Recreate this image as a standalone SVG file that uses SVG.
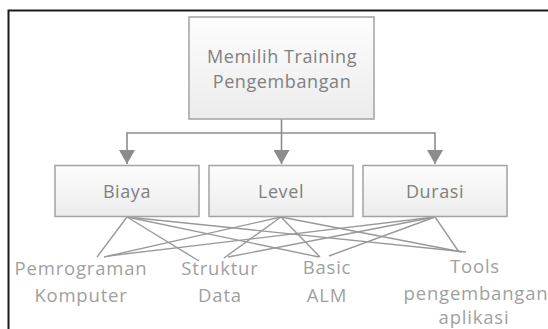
<svg xmlns="http://www.w3.org/2000/svg" width="548" height="329" viewBox="0 0 548 329">
<defs>
<linearGradient id="g" x1="0" y1="0" x2="0" y2="1">
<stop offset="0" stop-color="#fdfdfd"/>
<stop offset="1" stop-color="#ececec"/>
</linearGradient>
<marker id="arr" markerUnits="userSpaceOnUse" markerWidth="14" markerHeight="16" viewBox="0 0 14 16" refX="14" refY="8" orient="auto">
<path d="M0,0 L14,8 L0,16 z" fill="#8c8c8c"/>
</marker>
<style>
.box{fill:url(#g);stroke:#a3a3a3;stroke-width:1.5}
.bt{font-family:"Open Sans","Noto Sans",sans-serif;font-size:18px;letter-spacing:0.6px;fill:#808080;text-anchor:middle}
.lt{font-family:"Open Sans","Noto Sans",sans-serif;font-size:18.5px;letter-spacing:0.8px;fill:#9f9f9f;text-anchor:middle}
.c{fill:none;stroke:#8c8c8c;stroke-width:1.6}
.l{stroke:#999;stroke-width:1.4}
</style>
</defs>
<rect x="0" y="0" width="548" height="329" fill="#fff"/>
<rect x="8.5" y="10.5" width="600" height="400" fill="none" stroke="#1a1a1a" stroke-width="2"/>
<g id="connectors">
<path class="c" d="M281.5,119 V164" marker-end="url(#arr)"/>
<path class="c" d="M127,133 H435"/>
<path class="c" d="M127,132.2 V164" marker-end="url(#arr)"/>
<path class="c" d="M435,132.2 V164" marker-end="url(#arr)"/>
<g class="l">
<line x1="127" y1="217" x2="97" y2="257"/>
<line x1="127" y1="217" x2="199" y2="261"/>
<line x1="127" y1="217" x2="319" y2="257"/>
<line x1="127" y1="217" x2="466" y2="252"/>
<line x1="281" y1="217" x2="104" y2="257"/>
<line x1="281" y1="217" x2="224" y2="258"/>
<line x1="281" y1="217" x2="320" y2="257"/>
<line x1="281" y1="217" x2="462" y2="252"/>
<line x1="435" y1="217" x2="108" y2="256"/>
<line x1="435" y1="217" x2="228" y2="257"/>
<line x1="435" y1="217" x2="329" y2="256"/>
<line x1="435" y1="217" x2="459" y2="252"/>
</g>
</g>
<g id="root">
<rect class="box" x="189" y="17" width="185" height="102"/>
<text class="bt" x="282" y="62.5">Memilih Training</text>
<text class="bt" x="282" y="88">Pengembangan</text>
</g>
<g id="biaya">
<rect class="box" x="55" y="165.5" width="144" height="51"/>
<text class="bt" x="127" y="198">Biaya</text>
</g>
<g id="level">
<rect class="box" x="209" y="165.5" width="144" height="51"/>
<text class="bt" x="281" y="198">Level</text>
</g>
<g id="durasi">
<rect class="box" x="363" y="165.5" width="144" height="51"/>
<text class="bt" x="435" y="198">Durasi</text>
</g>
<g id="pemrograman">
<text class="lt" x="81" y="275">Pemrograman</text>
<text class="lt" x="81" y="302">Komputer</text>
</g>
<g id="struktur">
<text class="lt" x="220" y="275">Struktur</text>
<text class="lt" x="220" y="302">Data</text>
</g>
<g id="basic">
<text class="lt" x="327" y="273.5">Basic</text>
<text class="lt" x="327" y="301.5">ALM</text>
</g>
<g id="tools">
<text class="lt" x="475" y="273">Tools</text>
<text class="lt" x="476" y="300">pengembangan</text>
<text class="lt" x="474" y="323.5">aplikasi</text>
</g>
</svg>
